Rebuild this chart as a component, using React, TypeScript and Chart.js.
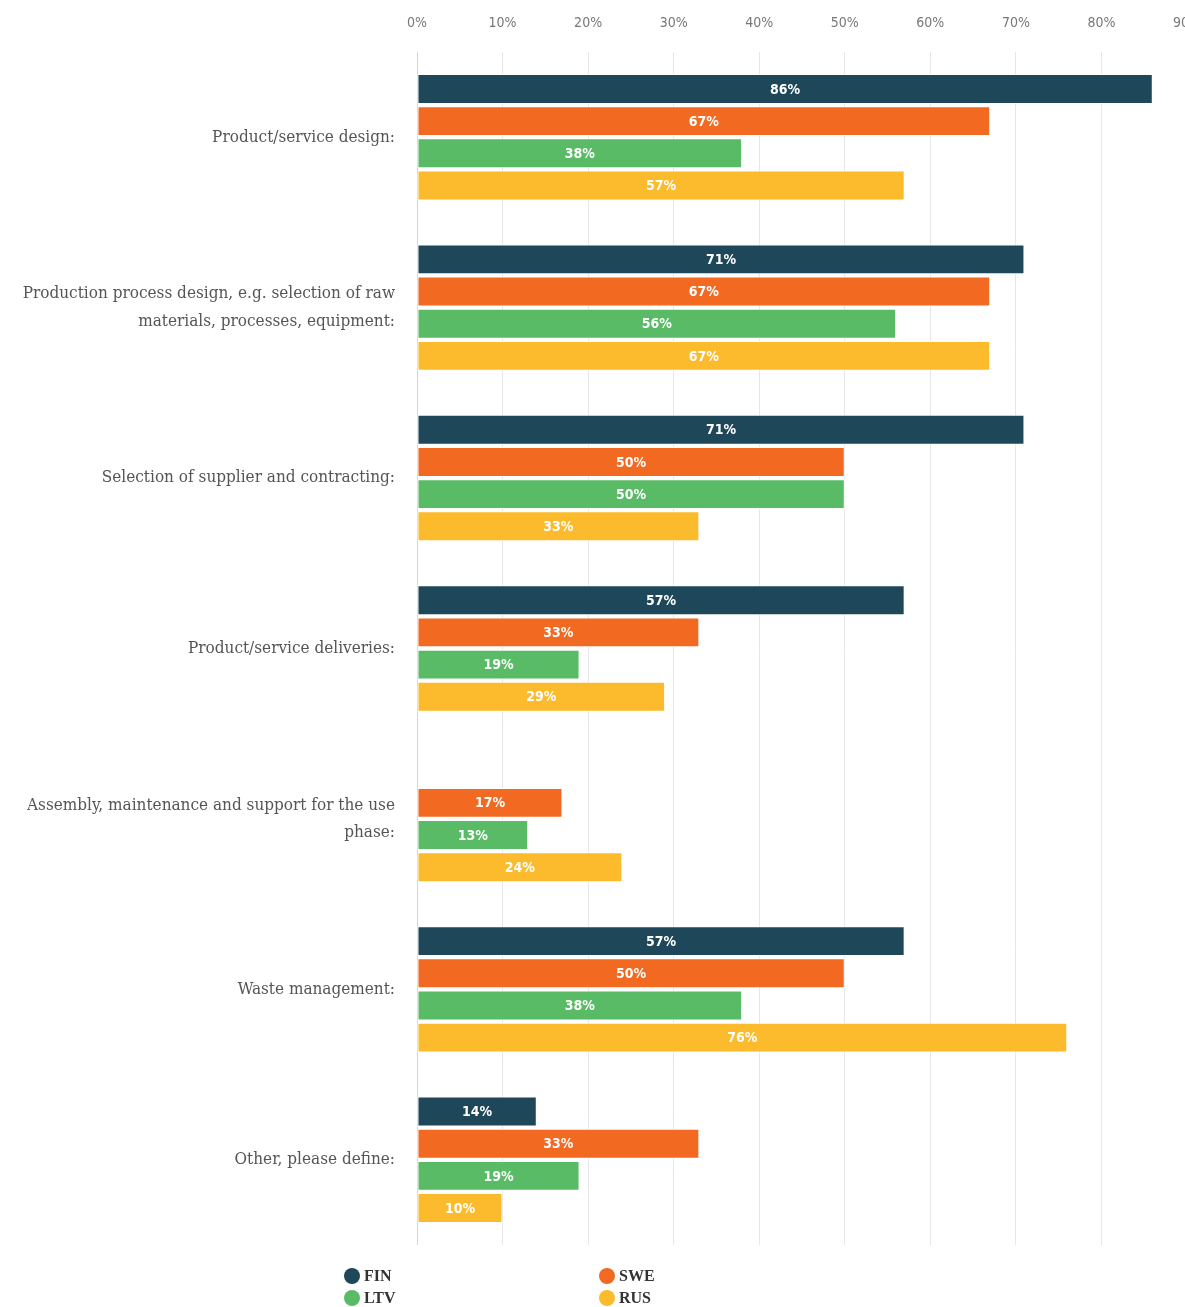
import React, { useEffect, useRef } from "react";
import { Chart, registerables } from "chart.js";

Chart.register(...registerables);

const categories: (string | string[])[] = [
  "Product/service design:",
  ["Production process design, e.g. selection of raw", "materials, processes, equipment:"],
  "Selection of supplier and contracting:",
  "Product/service deliveries:",
  ["Assembly, maintenance and support for the use", "phase:"],
  "Waste management:",
  "Other, please define:",
];

const seriesNames = ["FIN", "SWE", "LTV", "RUS"];
const seriesColors = ["#1e4759", "#f26a21", "#59bb66", "#fbbb2c"];

const finValues: (number | null)[] = [86, 71, 71, 57, null, 57, 14];
const sweValues: (number | null)[] = [67, 67, 50, 33, 17, 50, 33];
const ltvValues: (number | null)[] = [38, 56, 50, 19, 13, 38, 19];
const rusValues: (number | null)[] = [57, 67, 33, 29, 24, 76, 10];

const seriesValues = [finValues, sweValues, ltvValues, rusValues];

const xTickStep = 10;
const xMax = 90;

const barLabelPlugin = {
  id: "barLabels",
  afterDatasetsDraw(chart: any) {
    const ctx = chart.ctx;
    ctx.save();
    ctx.font = "bold 14px 'DejaVu Sans Condensed', 'DejaVu Sans', sans-serif";
    ctx.fillStyle = "#ffffff";
    ctx.textAlign = "center";
    ctx.textBaseline = "middle";
    chart.data.datasets.forEach((ds: any, i: number) => {
      const meta = chart.getDatasetMeta(i);
      meta.data.forEach((el: any, j: number) => {
        const v = ds.data[j];
        if (v === null || v === undefined) return;
        ctx.fillText(`${v}%`, (el.x + el.base) / 2, el.y + 1);
      });
    });
    ctx.restore();
  },
};

const legendPlugin = {
  id: "gridLegend",
  afterDraw(chart: any) {
    const ctx = chart.ctx;
    const top = chart.chartArea.bottom + 31;
    const colX = [352, 607];
    const rowH = 22;
    ctx.save();
    ctx.font = "bold 16px 'Liberation Serif', 'DejaVu Serif', serif";
    ctx.textBaseline = "middle";
    ctx.textAlign = "left";
    chart.data.datasets.forEach((ds: any, i: number) => {
      const x = colX[i % 2];
      const y = top + Math.floor(i / 2) * rowH;
      ctx.beginPath();
      ctx.fillStyle = ds.backgroundColor;
      ctx.arc(x, y, 8, 0, Math.PI * 2);
      ctx.fill();
      ctx.fillStyle = "#333333";
      ctx.fillText(ds.label, x + 12, y + 1);
    });
    ctx.restore();
  },
};

export default function App() {
  const canvasRef = useRef<HTMLCanvasElement | null>(null);

  useEffect(() => {
    if (!canvasRef.current) return;
    const chart = new Chart(canvasRef.current, {
      type: "bar",
      data: {
        labels: categories,
        datasets: seriesNames.map((name, i) => ({
          label: name,
          data: seriesValues[i],
          backgroundColor: seriesColors[i],
          borderColor: "#ffffff",
          borderWidth: 1,
          borderSkipped: false,
          categoryPercentage: 0.755,
          barPercentage: 0.93,
        })),
      },
      options: {
        indexAxis: "y",
        animation: false,
        responsive: false,
        maintainAspectRatio: false,
        layout: { padding: { top: 0, right: 0, bottom: 62, left: 0 } },
        plugins: {
          legend: { display: false },
          tooltip: { enabled: false },
        },
        scales: {
          x: {
            position: "top",
            min: 0,
            max: xMax,
            border: { display: false },
            grid: {
              color: (c: any) => (c.tick && c.tick.value === 0 ? "#ccd6eb" : "#e6e6e6"),
              drawTicks: false,
              lineWidth: 1,
            },
            ticks: {
              stepSize: xTickStep,
              padding: 20,
              color: "#777777",
              font: { family: "'DejaVu Sans Condensed', 'DejaVu Sans', sans-serif", size: 14 },
              callback: (v: any) => `${v}%`,
            },
            afterFit: (scale: any) => {
              scale.height = 52;
            },
          },
          y: {
            border: { display: false },
            grid: { display: false, drawTicks: false },
            ticks: {
              padding: 22,
              color: "#555555",
              font: { family: "'DejaVu Serif Condensed', 'Liberation Serif', serif", size: 17, lineHeight: 1.62 },
            },
            afterFit: (scale: any) => {
              scale.width = 417;
            },
          },
        },
      },
      plugins: [barLabelPlugin, legendPlugin],
    });
    return () => chart.destroy();
  }, []);

  return (
    <div
      style={{
        position: "fixed",
        left: 0,
        top: 0,
        width: 1185,
        height: 1307,
        overflow: "hidden",
        background: "#ffffff",
      }}
    >
      <canvas ref={canvasRef} width={1221} height={1307} style={{ display: "block" }} />
    </div>
  );
}
